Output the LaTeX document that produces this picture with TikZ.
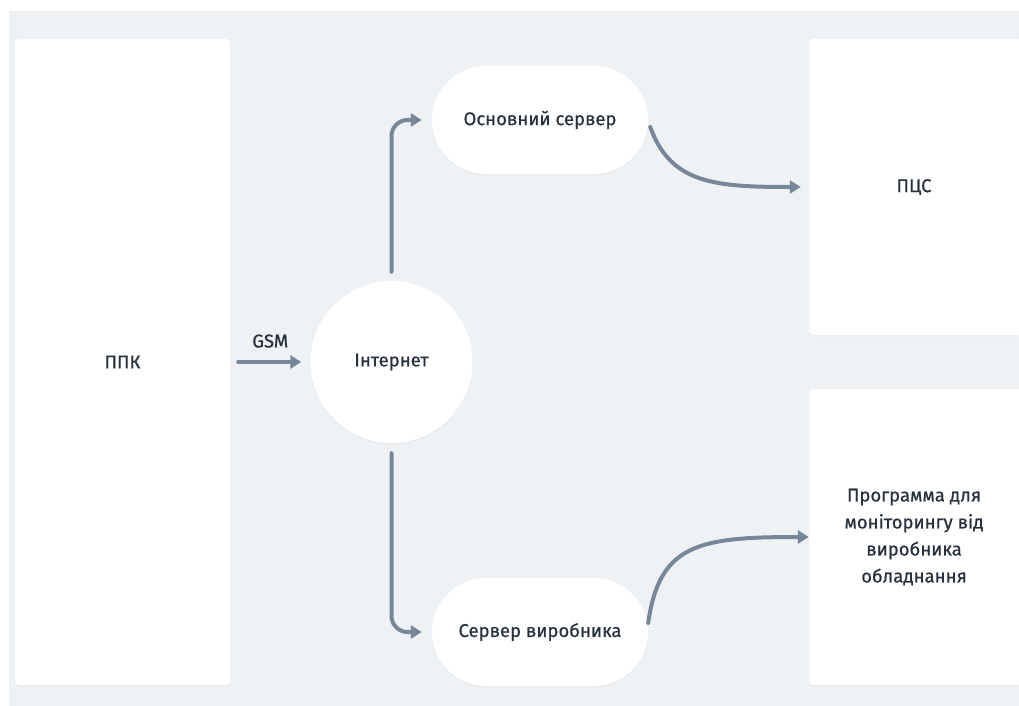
\documentclass[tikz,border=0pt]{standalone}
\usepackage{fontspec}
\setmainfont{Fira Sans}[FakeBold=0.6]
\usetikzlibrary{arrows.meta,shadows}
\definecolor{pagebg}{HTML}{EFF2F5}
\definecolor{flow}{HTML}{76879A}
\definecolor{ink}{HTML}{27313D}
\begin{document}
\begin{tikzpicture}[x=1pt,y=-1pt,
  font=\fontsize{18.5}{22}\selectfont\addfontfeatures{FakeBold=0.6}, text=ink,
  soft/.style={drop shadow={opacity=0.06,shadow xshift=0pt,shadow yshift=-1.5pt}},
  card/.style={fill=white,rounded corners=4pt,soft,inner sep=0pt},
  pill/.style={fill=white,rounded corners=54pt,soft,minimum width=216pt,minimum height=108pt,inner sep=0pt},
  hub/.style={circle,fill=white,soft,minimum size=162pt,inner sep=0pt},
  flowline/.style={draw=flow,line width=4pt,line cap=round,
    -{Triangle[length=11pt,width=13pt]}}]
\useasboundingbox (0,0) rectangle (1019,706);
\clip (0,0) rectangle (1019,706);
\fill[pagebg] (9,11) rectangle (1019,706);

% cards
\node[card,minimum width=215pt,minimum height=646pt] (ppk) at (122.5,362) {ППК};
\node[card,minimum width=210pt,minimum height=296pt] (pcs) at (914,187) {ПЦС};
\node[card,minimum width=210pt,minimum height=296pt,align=center,
  font=\fontsize{18.5}{27}\selectfont\addfontfeatures{FakeBold=0.6}] (prog) at (914,537)
  {Программа для\\моніторингу від\\виробника\\обладнання};
% cards run past the right edge
\fill[white] (1012,39) rectangle (1019,335);
\fill[white] (1012,389) rectangle (1019,685);

% hub and servers
\node[hub] (inet) at (391.5,362) {Інтернет};
\node[pill] (main) at (540,120) {Основний сервер};
\node[pill] (mfr) at (540,632) {Сервер виробника};

% connectors
\draw[flowline,shorten <=8pt,shorten >=9pt] (ppk.east) -- node[above=9pt] {GSM} (inet.west);
\draw[flowline,rounded corners=16pt,shorten <=9pt,shorten >=10pt] (inet.north) |- (main.west);
\draw[flowline,rounded corners=16pt,shorten <=10pt,shorten >=10pt] (inet.south) |- (mfr.west);
\draw[flowline,shorten >=8pt] ([shift={(2pt,-7pt)}]main.east)
  .. controls +(-70:60pt) and +(180:95pt) .. (pcs.west);
\draw[flowline] ([shift={(0pt,9pt)}]mfr.east)
  .. controls +(82:80pt) and +(180:110pt) .. (prog.west);
\end{tikzpicture}
\end{document}
